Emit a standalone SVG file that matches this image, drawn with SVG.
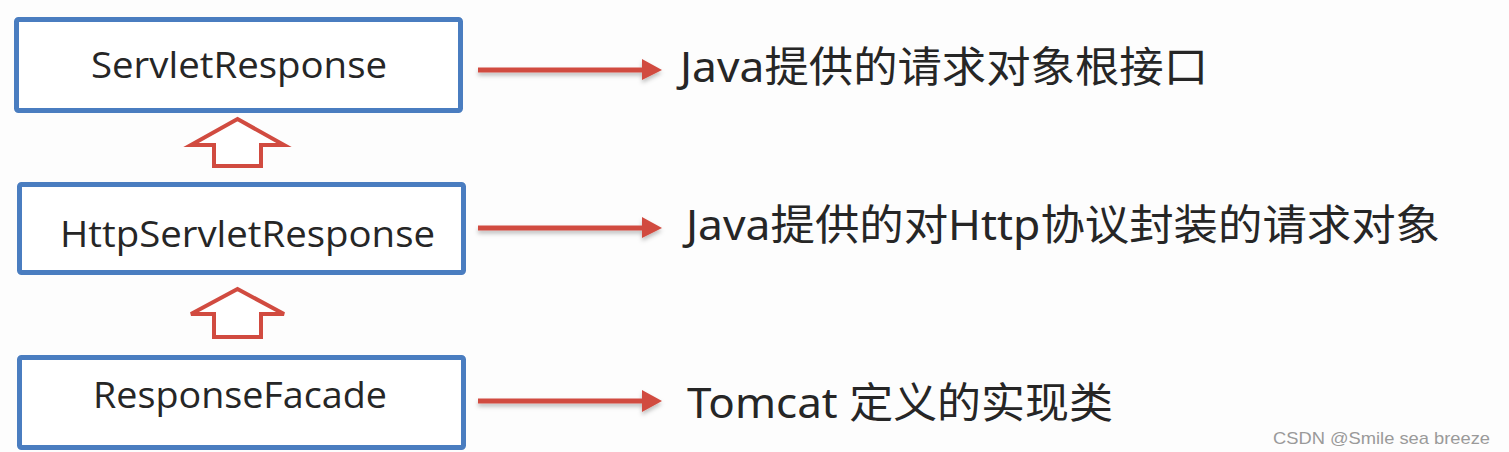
<svg xmlns="http://www.w3.org/2000/svg" width="1509" height="452" viewBox="0 0 1509 452">
<defs>
<style>
.box{fill:#ffffff;stroke:#4a7dc0;stroke-width:5}
.lbl{font-family:"Open Sans","Noto Sans",sans-serif;font-size:37px;fill:#262626}
.desc{font-family:"Noto Sans","Noto Sans CJK SC",sans-serif;font-size:42px;fill:#262626}
.hollow{fill:#ffffff;stroke:#d14b40;stroke-width:4;stroke-linejoin:miter}
.line{stroke:#d14b40;stroke-width:5;fill:none}
.head{fill:#d14b40}
.wm{font-family:"Liberation Sans",Arial,sans-serif;font-size:17px;fill:#9a9a9a}
</style>
<filter id="sh" x="-10%" y="-50%" width="120%" height="250%">
<feDropShadow dx="0" dy="3" stdDeviation="2" flood-color="#000" flood-opacity="0.25"/>
</filter>
</defs>
<rect width="1509" height="452" fill="#fdfdfd"/>
<g id="node-servletresponse">
<rect class="box" x="16.5" y="19.5" width="444" height="91" rx="2"/>
<text class="lbl" x="91" y="78" textLength="296" lengthAdjust="spacingAndGlyphs">ServletResponse</text>
</g>
<g id="node-httpservletresponse">
<rect class="box" x="19.5" y="184.5" width="444" height="88" rx="2"/>
<text class="lbl" x="60" y="247" textLength="375" lengthAdjust="spacingAndGlyphs">HttpServletResponse</text>
</g>
<g id="node-responsefacade">
<rect class="box" x="19.5" y="357.5" width="444" height="90" rx="2"/>
<text class="lbl" x="93" y="408" textLength="294" lengthAdjust="spacingAndGlyphs">ResponseFacade</text>
</g>
<g id="desc-1">
<text class="desc" x="680" y="82" textLength="528" lengthAdjust="spacingAndGlyphs">Java提供的请求对象根接口</text>
</g>
<g id="desc-2">
<text class="desc" x="686" y="240" textLength="754" lengthAdjust="spacingAndGlyphs">Java提供的对Http协议封装的请求对象</text>
</g>
<g id="desc-3">
<text class="desc" x="687" y="418" textLength="426" lengthAdjust="spacingAndGlyphs">Tomcat 定义的实现类</text>
</g>
<g id="connectors">
<polygon class="hollow" points="237.5,119 284,145 261,145 261,166 214,166 214,145 191,145"/>
<polygon class="hollow" points="237.5,289 284,314 261,314 261,337 214,337 214,314 191,314"/>
<g filter="url(#sh)">
<line class="line" x1="478" y1="70" x2="645" y2="70"/>
<polygon class="head" points="642,59 662,70 642,80"/>
<line class="line" x1="478" y1="228" x2="645" y2="228"/>
<polygon class="head" points="642,217 662,228 642,238"/>
<line class="line" x1="478" y1="401" x2="645" y2="401"/>
<polygon class="head" points="642,390 662,401 642,412"/>
</g>
</g>
<text class="wm" x="1273" y="444" textLength="217" lengthAdjust="spacingAndGlyphs">CSDN @Smile sea breeze</text>
</svg>
